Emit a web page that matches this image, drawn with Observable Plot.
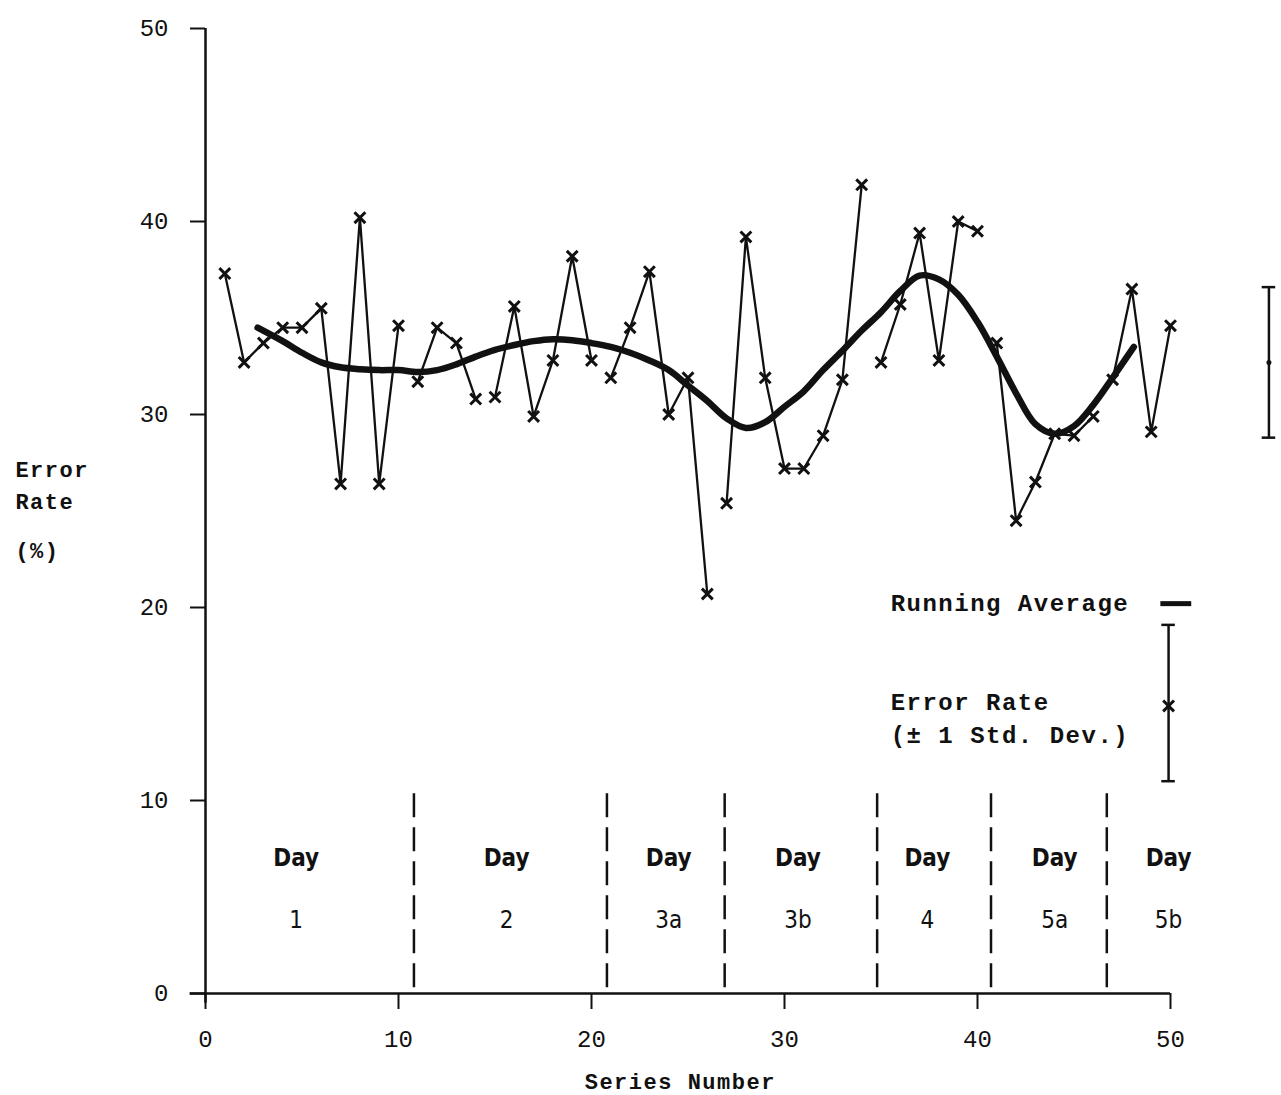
<!DOCTYPE html>
<html>
<head>
<meta charset="utf-8">
<script src="https://cdn.jsdelivr.net/npm/d3@7"></script>
<script src="https://cdn.jsdelivr.net/npm/@observablehq/plot@0.6"></script>
<style>
  html, body { margin: 0; padding: 0; background: #fff; }
  #chart svg { display: block; }
</style>
</head>
<body>
<div id="chart"></div>
<script>
// ---- data ----
const seriesNumber = [1,2,3,4,5,6,7,8,9,10,11,12,13,14,15,16,17,18,19,20,21,22,23,24,25,26,27,28,29,30,31,32,33,34,35,36,37,38,39,40,41,42,43,44,45,46,47,48,49,50];
const errorRate = [37.3,32.7,33.7,34.5,34.5,35.5,26.4,40.2,26.4,34.6,31.7,34.5,33.7,30.8,30.9,35.6,29.9,32.8,38.2,32.8,31.9,34.5,37.4,30.0,31.9,20.7,25.4,39.2,31.9,27.2,27.2,28.9,31.8,41.9,32.7,35.7,39.4,32.8,40.0,39.5,33.7,24.5,26.5,29.0,28.9,29.9,31.8,36.5,29.1,34.6];
const segment = ["A","A","A","A","A","A","A","A","A","A","B","B","B","B","C","C","C","C","C","C","D","D","D","D","D","D","E","E","E","E","E","E","E","E","F","F","F","F","F","F","G","G","G","G","G","G","H","H","H","H"];

const avgX = [2.7,4,5,6,7,8,9,10,11,12,13,14,15,16,17,18,19,20,21,22,23,24,25,26,27,28,29,30,31,32,33,34,35,36,37,38,39,40,41,42,43,44,45,46,47,48.1];
const avgY = [34.5,33.8,33.2,32.7,32.45,32.35,32.3,32.3,32.2,32.3,32.6,33.0,33.35,33.6,33.8,33.9,33.85,33.7,33.5,33.2,32.8,32.3,31.5,30.7,29.8,29.3,29.6,30.4,31.2,32.3,33.3,34.35,35.3,36.4,37.2,37.0,36.2,34.8,33.0,31.1,29.5,29.0,29.4,30.5,31.9,33.5];

const dayBoundaries = [10.8,20.8,26.9,34.8,40.7,46.7];
const dayNames = ["1","2","3a","3b","4","5a","5b"];
const dayCenters = [4.7,15.6,24.0,30.7,37.4,44.0,49.9];

const overallMean = 32.7;
const overallSD = 3.9;

const xTicks = [0,10,20,30,40,50];
const yTicks = [0,10,20,30,40,50];

// ---- derived tables ----
const points = seriesNumber.map((s, i) => ({x: s, y: errorRate[i], seg: segment[i]}));
const avg = avgX.map((x, i) => ({x, y: avgY[i]}));
const days = dayNames.map((d, i) => ({x: dayCenters[i], name: d}));

// layout constants for side bar and legend (data units)
const sideX = 55.1;
const legend = {textX: 35.5, raY: 20.2, raX1: 49.5, raX2: 51.1, barX: 49.9, barTop: 19.1, barBottom: 11.0, barMark: 14.9};

const mono = "'Liberation Mono', 'DejaVu Sans Mono', monospace";
const narrow = "'Liberation Sans Narrow', 'DejaVu Sans Condensed', 'DejaVu Sans', sans-serif";

const chart = Plot.plot({
  width: 1281,
  height: 1095,
  marginLeft: 205,
  marginRight: 111,
  marginTop: 28,
  marginBottom: 102,
  x: {domain: [0, 50]},
  y: {domain: [0, 50]},
  style: {fontFamily: mono, color: "#111", background: "#fff"},
  marks: [
    // axes lines
    Plot.ruleX([0], {y1: -0.5, y2: 50, strokeWidth: 2.5, stroke: "#111"}),
    Plot.ruleY([0], {x1: -0.8, x2: 50, strokeWidth: 2.5, stroke: "#111"}),
    Plot.axisY({ticks: yTicks, tickSize: 15, tickPadding: 22, fontSize: 24, strokeWidth: 2, fontFamily: mono, label: null}),
    Plot.axisX({ticks: xTicks, tickSize: 16, tickPadding: 20, fontSize: 24, strokeWidth: 2, fontFamily: mono, label: null}),
    // axis titles
    Plot.text(["Error\nRate"], {x: -9.85, y: 26.45, textAnchor: "start", lineHeight: 1.45, fontSize: 22, fontWeight: "bold", fontFamily: mono}),
    Plot.text(["(%)"], {x: -9.85, y: 22.95, textAnchor: "start", fontSize: 22, fontWeight: "bold", fontFamily: mono}),
    Plot.text(["Series Number"], {x: 24.6, frameAnchor: "bottom", dy: 95, fontSize: 22, fontWeight: "bold", fontFamily: mono}),
    // day boundaries
    Plot.ruleX(dayBoundaries, {y1: 0.3, y2: 10.4, strokeWidth: 2.5, strokeDasharray: "24,10", stroke: "#111"}),
    Plot.text(days, {x: "x", y: 7.0, text: () => "Day", fontSize: 24, fontWeight: "bold", fontFamily: narrow}),
    Plot.text(days, {x: "x", y: 3.8, text: "name", fontSize: 24, fontFamily: narrow}),
    // data
    Plot.line(points, {x: "x", y: "y", z: "seg", stroke: "#111", strokeWidth: 2.3}),
    Plot.dot(points, {x: "x", y: "y", symbol: "times", r: 5, stroke: "#111", strokeWidth: 3}),
    Plot.line(avg, {x: "x", y: "y", curve: "catmull-rom", stroke: "#111", strokeWidth: 6.5, strokeLinecap: "round"}),
    // overall mean +/- 1 SD bar on the right
    Plot.ruleX([sideX], {y1: overallMean - overallSD, y2: overallMean + overallSD, strokeWidth: 2.5, stroke: "#111"}),
    Plot.ruleY([overallMean - overallSD, overallMean + overallSD], {x1: sideX - 0.35, x2: sideX + 0.35, strokeWidth: 2.5, stroke: "#111"}),
    Plot.dot([overallMean], {x: sideX, y: d => d, r: 2.5, fill: "#111"}),
    // legend
    Plot.text(["Running Average"], {x: legend.textX, y: legend.raY, textAnchor: "start", fontSize: 24, fontWeight: "bold", fontFamily: mono}),
    Plot.ruleY([legend.raY], {x1: legend.raX1, x2: legend.raX2, strokeWidth: 5, stroke: "#111"}),
    Plot.text(["Error Rate\n(± 1 Std. Dev.)"], {x: legend.textX, y: 14.4, textAnchor: "start", lineHeight: 1.4, fontSize: 24, fontWeight: "bold", fontFamily: mono}),
    Plot.ruleX([legend.barX], {y1: legend.barBottom, y2: legend.barTop, strokeWidth: 2.5, stroke: "#111"}),
    Plot.ruleY([legend.barBottom, legend.barTop], {x1: legend.barX - 0.35, x2: legend.barX + 0.35, strokeWidth: 2.5, stroke: "#111"}),
    Plot.dot([legend.barMark], {x: legend.barX, y: d => d, symbol: "times", r: 5, stroke: "#111", strokeWidth: 3, fill: "#fff"})
  ]
});
// typewriter-like spacing for the bold monospace labels
d3.select(chart).selectAll("g[font-weight='bold']").filter(function() {
  return (this.getAttribute("font-family") || "").includes("Liberation Mono");
}).attr("letter-spacing", "1.5px");
document.getElementById("chart").appendChild(chart);
</script>
</body>
</html>
